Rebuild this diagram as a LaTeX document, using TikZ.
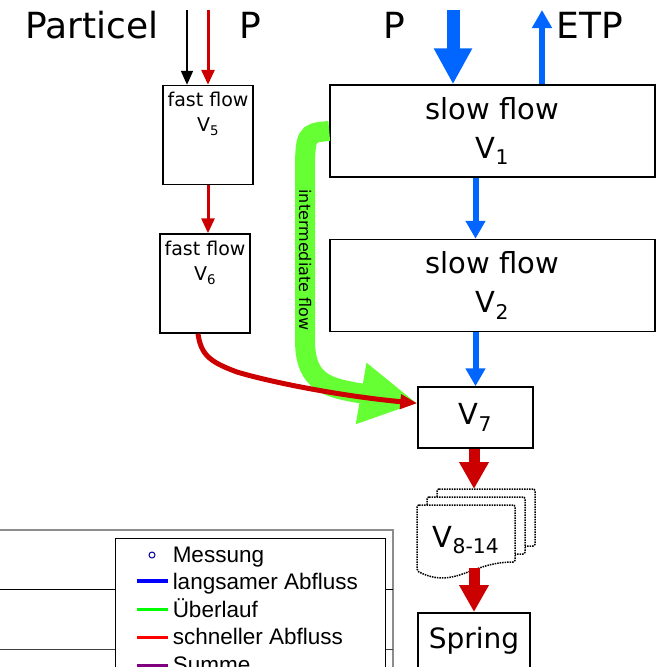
\documentclass[tikz,border=0pt]{standalone}
\usepackage{fontspec}
\setmainfont{DejaVu Sans}
\newfontfamily\legendfont{Liberation Sans}
\usetikzlibrary{positioning, calc, arrows.meta}
\definecolor{fast_flow}{HTML}{CC0000}
\definecolor{slow_flow}{HTML}{0066FF}
\definecolor{inter_flow}{HTML}{66FF33}
\definecolor{plot_gray}{HTML}{8C8C8C}

\begin{document}
\begin{tikzpicture}[
    x=1pt, y=-1pt,
    line width=1.5pt,
    volbox/.style={
        draw,
        fill=white,
        align=center,
        inner sep=0pt
    },
    slowbox/.style={volbox, minimum width=325pt, minimum height=92pt,
        font=\fontsize{29}{39}\selectfont},
    fastbox/.style={volbox, minimum width=90pt, minimum height=99pt},
    boxtitle/.style={anchor=north, align=center, inner sep=4pt, yshift=-3pt,
        font=\fontsize{19}{25}\selectfont},
    bigtext/.style={anchor=base, inner sep=0pt, font=\fontsize{36}{40}\selectfont},
    page/.style={draw, densely dotted, fill=white, line width=1.5pt, rounded corners=2pt},
    particelarrow/.style={-{Triangle[length=14pt, width=12pt]}, draw=black, line width=2pt},
    fastarrow/.style={-{Triangle[length=15pt, width=13pt]}, draw=fast_flow, line width=3pt},
    bigfastarrow/.style={-{Triangle[length=27pt, width=28pt]}, draw=fast_flow, line width=11pt},
    slowarrow/.style={-{Triangle[length=18pt, width=19pt]}, draw=slow_flow, line width=6pt},
    bigslowarrow/.style={-{Triangle[length=36pt, width=36pt]}, draw=slow_flow, line width=13pt},
    interarrow/.style={-{Triangle[length=57pt, width=58pt]}, draw=inter_flow, line width=20pt},
    legendtext/.style={anchor=base west, inner sep=0pt,
        font={\legendfont\fontsize{22.5}{27}\selectfont}}
]
\path[use as bounding box, clip] (0,0) rectangle (661,667);

% boxes
\node[slowbox] (V1) at (492.5,131) {slow flow\\V\textsubscript{1}};
\node[slowbox, below=61pt of V1] (V2) {slow flow\\V\textsubscript{2}};
\node[volbox, minimum width=115pt, minimum height=61pt, below=54pt of V2, xshift=-17pt,
    font=\fontsize{29}{34}\selectfont] (V7) {V\textsubscript{7}};
\node[fastbox, label={[boxtitle]north:{fast flow\\V\textsubscript{5}}}] (V5) at (208,135) {};
\node[fastbox, below=48pt of V5, xshift=-3pt,
    label={[boxtitle]north:{fast flow\\V\textsubscript{6}}}] (V6) {};

% stacked pages V8-14
\foreach \s in {2,1,0} {
    \begin{scope}[shift={(10*\s,-8*\s)}]
        \draw[page] (417,505) -- (515,505) -- (515,562)
            .. controls (470,562) and (455,590) .. (417,571) -- cycle;
    \end{scope}
}
\node[minimum width=98pt, minimum height=54pt, inner sep=0pt,
    font=\fontsize{29}{34}\selectfont] (V8) at (466,540) {V\textsubscript{8-14}};
\coordinate (stacktop) at (474,489);

\node[volbox, anchor=north, minimum width=112pt, text height=32pt, text depth=40pt,
    inner sep=4pt, font=\fontsize{28}{32}\selectfont] (spring) at (474,612) {Spring};

% top labels
\node[bigtext] (particel) at (92,38) {Particel};
\node[bigtext] (p_fast) at (250,38) {P};
\node[bigtext] (p_slow) at (394,38) {P};
\node[bigtext] (etp) at (590,38) {ETP};

\coordinate (particel_in) at (187,10);
\coordinate (p_fast_in) at (208,10);
\coordinate (p_slow_in) at (453,10);
\coordinate (etp_out) at (542,10);

% flows
\draw[particelarrow] (particel_in) -- (particel_in |- V5.north);
\draw[fastarrow] (p_fast_in) -- (p_fast_in |- V5.north);
\draw[fastarrow] (V5.south -| p_fast_in) -- (V6.north -| p_fast_in);
\draw[bigslowarrow] (p_slow_in) -- (p_slow_in |- V1.north);
\draw[slowarrow] (etp_out |- V1.north) -- (etp_out);
\draw[slowarrow] (V1.south -| V7) -- (V2.north -| V7);
\draw[slowarrow] (V2.south -| V7) -- (V7.north);

\draw[interarrow] (V1.west) .. controls (305,133) .. (305,180)
    -- node[midway, sloped, inner sep=0pt, font=\fontsize{16}{18}\selectfont] (interlabel) {intermediate flow} (305,340)
    .. controls (305,385) and (330,388) .. ([yshift=-17pt]V7.north west);
\draw[fastarrow, line width=5pt, -{Triangle[length=17pt, width=14pt]}]
    ([xshift=-7pt]V6.south) .. controls (201,355) and (210,362) .. (237,372)
    .. controls (270,382) and (340,396) .. ([yshift=-17pt]V7.north west);

\draw[bigfastarrow] (stacktop |- V7.south) -- (stacktop);
\draw[bigfastarrow] (V8.south -| spring) -- (spring);

% legend of the plot
\draw[plot_gray, line width=1.5pt] (0,530) -- (393,530) -- (393,667);
\draw[black, line width=1pt] (0,589) -- (393,589);
\draw[black!75, line width=1pt] (0,649) -- (393,649);
\draw[black, fill=white, line width=1pt] (115,538) rectangle (385,700);

\draw[blue!60!black, line width=1pt] (152,555) circle[radius=3pt];
\node[legendtext] (leg_mess) at (172,562) {Messung};
\draw[blue, line width=4pt] (137,581) -- (168,581);
\node[legendtext] (leg_slow) at (172,589) {langsamer Abfluss};
\draw[green, line width=3pt] (137,609) -- (168,609);
\node[legendtext] (leg_over) at (172,617) {Überlauf};
\draw[red, line width=3pt] (137,637) -- (168,637);
\node[legendtext] (leg_fast) at (172,644) {schneller Abfluss};
\draw[violet, line width=4pt] (137,666) -- (168,666);
\node[legendtext] (leg_sum) at (172,672) {Summe};

\end{tikzpicture}
\end{document}
